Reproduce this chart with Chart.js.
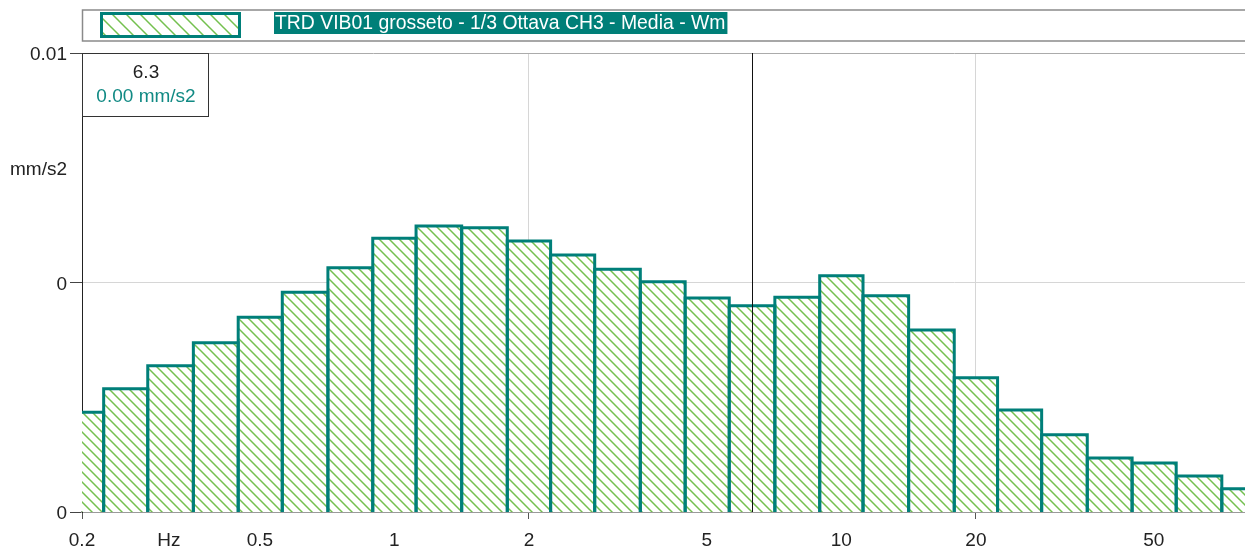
<!DOCTYPE html>
<html>
<head>
<meta charset="utf-8">
<script src="https://cdn.jsdelivr.net/npm/chart.js@4/dist/chart.umd.min.js"></script>
<style>
  html, body { margin: 0; padding: 0; background: #ffffff; }
  #wrap { width: 1245px; height: 552px; position: relative; }
  canvas { display: block; }
</style>
</head>
<body>
<div id="wrap"><canvas id="spectrum" width="1245" height="552"></canvas></div>
<script>
// 1/3-octave band centre frequencies (Hz)
const bandLabels = [0.2, 0.25, 0.315, 0.4, 0.5, 0.63, 0.8, 1, 1.25, 1.6, 2, 2.5, 3.15, 4, 5,
                    6.3, 8, 10, 12.5, 16, 20, 25, 31.5, 40, 50, 63, 80];
// Band levels (mm/s2)
const bandValues = [0.000272, 0.000344, 0.000434, 0.000547, 0.000705, 0.000906, 0.00116, 0.001558,
                    0.001763, 0.001733, 0.001517, 0.001318, 0.001142, 0.001008, 0.000856,
                    0.000792, 0.000862, 0.00107, 0.000876, 0.000621, 0.000385, 0.000278,
                    0.000217, 0.000172, 0.0001635, 0.0001436, 0.0001263];

// Axis ticks
const xTickValues = [0.2, 0.313, 0.5, 1, 2, 5, 10, 20, 50];
const xTickText   = ['0.2', 'Hz', '0.5', '1', '2', '5', '10', '20', '50'];
const xMajorTicks = [0.2, 2, 20];
const yTickValues = [0.0001, 0.001, 0.00316, 0.01];
const yTickText   = ['0', '0', 'mm/s2', '0.01'];

const seriesName = 'TRD VIB01 grosseto - 1/3 Ottava CH3 - Media - Wm';
const unit = 'mm/s2';
const cursorBand = 6.3;

const TEAL = '#007f79';
const HATCH = '#74c04f';
const FONT = '"Liberation Sans", Arial, Helvetica, sans-serif';

function hatchPattern(ctx, size) {
  const c = document.createElement('canvas');
  c.width = size; c.height = size;
  const g = c.getContext('2d');
  g.fillStyle = '#ffffff';
  g.fillRect(0, 0, size, size);
  g.strokeStyle = HATCH;
  g.lineWidth = 1.5;
  g.beginPath();
  g.moveTo(-2, -2); g.lineTo(size + 2, size + 2);
  g.moveTo(-2, size - 2); g.lineTo(2, size + 2);
  g.moveTo(size - 2, -2); g.lineTo(size + 2, 2);
  g.stroke();
  return ctx.createPattern(c, 'repeat');
}

const canvas = document.getElementById('spectrum');
const ctx2d = canvas.getContext('2d');
const barFill = hatchPattern(ctx2d, 10);
const swatchFill = hatchPattern(ctx2d, 14);

// Heavy outline on each band bar, centred on the bar edges
const barOutline = {
  id: 'barOutline',
  afterDatasetDraw(chart, args) {
    const { ctx, chartArea } = chart;
    ctx.save();
    ctx.beginPath();
    ctx.rect(chartArea.left, chartArea.top - 4, chartArea.right - chartArea.left, chartArea.bottom - chartArea.top + 4);
    ctx.clip();
    ctx.strokeStyle = TEAL;
    ctx.lineWidth = 3;
    ctx.lineJoin = 'miter';
    args.meta.data.forEach(bar => {
      const { x, y, base, width } = bar.getProps(['x', 'y', 'base', 'width'], true);
      const l = x - width / 2, r = x + width / 2;
      ctx.beginPath();
      ctx.moveTo(l, base);
      ctx.lineTo(l, y);
      ctx.lineTo(r, y);
      ctx.lineTo(r, base);
      ctx.stroke();
    });
    ctx.restore();
  }
};

// Series box along the top
const seriesBox = {
  id: 'seriesBox',
  afterDraw(chart) {
    const ctx = chart.ctx;
    const left = chart.chartArea.left;
    ctx.save();
    ctx.strokeStyle = '#8a8a8a';
    ctx.lineWidth = 1.5;
    ctx.strokeRect(left + 0.5, 10, chart.width - left + 10, 31);
    ctx.fillStyle = swatchFill;
    ctx.fillRect(101, 13, 139, 24);
    ctx.strokeStyle = TEAL;
    ctx.lineWidth = 3;
    ctx.strokeRect(101.5, 13.5, 138, 23);
    ctx.font = '19.4px ' + FONT;
    const w = ctx.measureText(seriesName).width;
    ctx.fillStyle = '#007f78';
    ctx.fillRect(274, 12, w + 3, 22);
    ctx.fillStyle = '#ffffff';
    ctx.textBaseline = 'middle';
    ctx.textAlign = 'left';
    ctx.fillText(seriesName, 275, 23.5);
    ctx.restore();
  }
};

// Vertical cursor on the selected band and its readout box
const cursor = {
  id: 'cursor',
  afterDatasetsDraw(chart) {
    const { ctx, chartArea, scales } = chart;
    const x = Math.round(scales.x.getPixelForValue(cursorBand)) + 0.5;
    ctx.save();
    ctx.strokeStyle = '#111111';
    ctx.lineWidth = 1;
    ctx.beginPath();
    ctx.moveTo(x, chartArea.top);
    ctx.lineTo(x, chartArea.bottom);
    ctx.stroke();
    ctx.restore();
  },
  afterDraw(chart) {
    const { ctx, chartArea } = chart;
    const v = bandValues[bandLabels.indexOf(cursorBand)];
    const bx = chartArea.left, by = chartArea.top, bw = 126, bh = 63;
    ctx.save();
    ctx.fillStyle = '#ffffff';
    ctx.fillRect(bx, by, bw, bh);
    ctx.strokeStyle = '#333333';
    ctx.lineWidth = 1;
    ctx.strokeRect(bx + 0.5, by + 0.5, bw, bh);
    ctx.font = '19px ' + FONT;
    ctx.textAlign = 'center';
    ctx.textBaseline = 'middle';
    ctx.fillStyle = '#222222';
    ctx.fillText(String(cursorBand), bx + bw / 2 + 1, by + 20);
    ctx.fillStyle = '#118a84';
    ctx.fillText(v.toFixed(2) + ' ' + unit, bx + bw / 2 + 1, by + 44);
    ctx.restore();
  }
};

new Chart(canvas, {
  type: 'bar',
  data: {
    datasets: [{
      label: seriesName,
      data: bandLabels.map((f, i) => ({ x: f, y: bandValues[i] })),
      backgroundColor: barFill,
      borderWidth: 0,
      inflateAmount: 0,
      barThickness: 'flex',
      categoryPercentage: 1,
      barPercentage: 1,
      clip: 0
    }]
  },
  options: {
    responsive: false,
    animation: false,
    devicePixelRatio: 1,
    events: [],
    layout: { padding: { top: 53, left: 0, right: 0, bottom: 0 } },
    plugins: { legend: { display: false }, tooltip: { enabled: false } },
    scales: {
      x: {
        type: 'logarithmic',
        min: 0.2,
        max: 80,
        offset: false,
        afterBuildTicks: s => { s.ticks = xTickValues.map(v => ({ value: v })); },
        afterFit: s => { s.height = 40; },
        ticks: {
          autoSkip: false,
          maxRotation: 0,
          padding: 10,
          color: '#222222',
          font: { family: FONT, size: 19 },
          callback: (v, i) => xTickText[i]
        },
        grid: {
          offset: false,
          lineWidth: 1,
          tickLength: 7,
          color: c => (c.tick && (c.tick.value === 2 || c.tick.value === 20)) ? '#d6d6d6' : 'rgba(0,0,0,0)',
          tickColor: c => (c.tick && xMajorTicks.includes(c.tick.value)) ? '#555555' : 'rgba(0,0,0,0)'
        },
        border: { color: '#9a9a9a', width: 2 }
      },
      y: {
        type: 'logarithmic',
        min: 0.0001,
        max: 0.01,
        afterBuildTicks: s => { s.ticks = yTickValues.map(v => ({ value: v })); },
        afterFit: s => { s.width = 82; },
        ticks: {
          autoSkip: false,
          padding: 3,
          labelOffset: 2,
          color: '#222222',
          font: { family: FONT, size: 19 },
          callback: (v, i) => yTickText[i]
        },
        grid: {
          lineWidth: 1,
          tickLength: 12,
          color: c => {
            if (!c.tick) return 'rgba(0,0,0,0)';
            if (c.tick.value === 0.01) return '#ababab';
            if (c.tick.value === 0.001) return '#d6d6d6';
            return 'rgba(0,0,0,0)';
          },
          tickColor: c => (c.tick && c.tick.value !== 0.00316) ? '#444444' : 'rgba(0,0,0,0)'
        },
        border: { color: '#222222', width: 1 }
      }
    }
  },
  plugins: [barOutline, seriesBox, cursor]
});
</script>
</body>
</html>
